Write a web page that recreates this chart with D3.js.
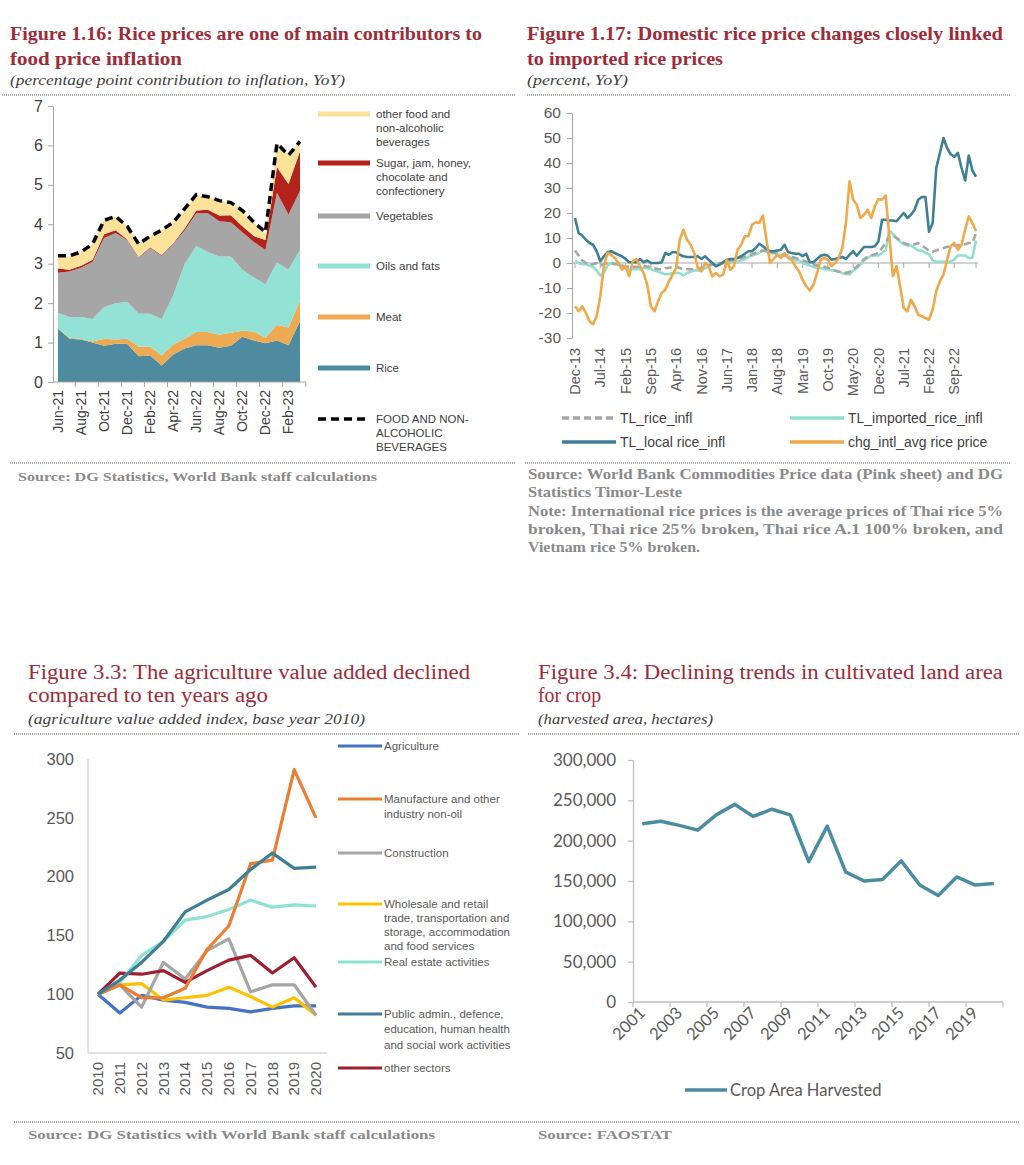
<!DOCTYPE html>
<html><head><meta charset="utf-8">
<script src="https://cdn.jsdelivr.net/npm/d3@7"></script>
<style>
body{margin:0;background:#fff;}
svg{display:block;}
</style></head><body>
<svg id="c" width="1024" height="1165"></svg>
<script>
// ================= DATA =================
// Figure 1.16 (percentage point contribution to inflation, YoY)
const f16Months = ["Jun-21","Jul-21","Aug-21","Sep-21","Oct-21","Nov-21","Dec-21","Jan-22","Feb-22","Mar-22","Apr-22","May-22","Jun-22","Jul-22","Aug-22","Sep-22","Oct-22","Nov-22","Dec-22","Jan-23","Feb-23","Mar-23"];
const f16TickLabels = ["Jun-21","Aug-21","Oct-21","Dec-21","Feb-22","Apr-22","Jun-22","Aug-22","Oct-22","Dec-22","Feb-23"];
const f16Rice  = [1.35,1.10,1.08,1.00,0.92,0.97,0.97,0.65,0.67,0.42,0.70,0.85,0.93,0.93,0.87,0.92,1.15,1.05,0.98,1.05,0.93,1.55];
const f16Meat  = [0.02,0.02,0.02,0.03,0.18,0.11,0.13,0.25,0.23,0.25,0.25,0.25,0.34,0.34,0.33,0.33,0.15,0.23,0.14,0.40,0.45,0.52];
const f16Oils  = [0.38,0.53,0.55,0.57,0.80,0.92,0.93,0.83,0.83,0.93,1.25,1.90,2.18,2.03,1.98,1.93,1.55,1.37,1.36,1.58,1.47,1.28];
const f16Veg   = [1.02,1.15,1.25,1.45,1.75,1.78,1.57,1.42,1.67,1.60,1.30,0.85,0.83,0.98,0.90,0.87,0.95,0.90,0.87,1.77,1.40,1.50];
const f16Sugar = [0.11,0.05,0.05,0.05,0.10,0.07,0.02,0.02,0.02,0.02,0.02,0.05,0.07,0.09,0.14,0.18,0.15,0.15,0.25,0.65,0.77,1.00];
const f16Other = [0.27,0.33,0.35,0.40,0.35,0.35,0.33,0.33,0.28,0.63,0.53,0.45,0.40,0.33,0.38,0.32,0.40,0.35,0.15,0.60,0.73,0.25];
const f16Total = [3.20,3.20,3.30,3.50,4.10,4.20,3.95,3.50,3.70,3.85,4.05,4.40,4.75,4.70,4.60,4.55,4.35,4.05,3.80,6.05,5.75,6.10];

// Figure 1.17 (percent, YoY), monthly Dec-13 .. Mar-23
const f17Start = new Date(2013, 11, 1), f17End = new Date(2023, 3, 1);
const f17TickLabels = ["Dec-13","Jul-14","Feb-15","Sep-15","Apr-16","Nov-16","Jun-17","Jan-18","Aug-18","Mar-19","Oct-19","May-20","Dec-20","Jul-21","Feb-22","Sep-22"];
const f17RiceInfl = [5,3,1,0,-0.5,-0.5,0,-1,-0.5,0,0,-0.5,-0.5,-1,-1.5,-1.5,-1.5,-1.5,-1.5,-1,-1.5,-1.5,-2,-2.5,-2.5,-2,-2,-1.5,-1.5,-2,-2.5,-2.5,-2.5,-2.5,-2,-2,-1.5,-1,-0.5,-0.5,0,0,0.5,1,1,1.5,2,2.5,3,3.5,4,4.5,5,5,4.5,4,4,3.5,3,3,2.5,2,1.5,1,0.5,0,-0.5,-1,-1,-1.5,-2,-2.5,-3,-3.5,-3.5,-4,-3.5,-2.5,-1.5,0,1.5,2.5,3,3.5,4,6,8,11,11,10,9,8,7.5,7,7.5,8,7,6,5,4.5,5,5.5,6,6.5,6.5,7,7,7.5,7.5,8,8,12];
const f17Imported = [1,0,-0.5,-0.5,-1,-1.5,-3,-5,-4,-1,0,0,-0.5,-1,-2,-2.5,-2.5,-2.5,-2.5,-2,-2,-2.5,-3,-3.5,-4,-4.5,-4.5,-4,-4,-4,-5,-4,-3.5,-3,-3,-3,-2,-1.5,-0.5,-0.5,-0.5,0,0,0,0.5,0.5,1,1.5,2.5,3,3.5,4,5,4.5,4,4,3.5,3,3,2.5,2,1,1,0,-0.5,-1,-1.5,-2,-2,-2.5,-2.5,-3,-3,-3.5,-4,-4.5,-4.5,-3,-2,-0.5,1,2,3,3,3,4,5,13,11.5,10,8.5,7.5,7,7,6,5,5,4,3.5,1,0.5,0.5,0.5,0.5,0.5,1.5,3,3,3,2,2,9];
const f17Local = [18,12,11,9.3,8,7.3,4.7,0.7,2.7,4.3,4.7,4,3.3,2.7,1.6,0.3,0.3,0.3,1.6,0.3,1,0,0,0,0.3,4,3.3,4.3,4.3,3.3,2.7,2.4,2.4,2.4,2.7,1.6,2.7,1.3,0,-1.3,-0.7,0.3,1.3,1.6,1.6,2,2.7,3.7,4.7,4.7,6,7.7,6.7,5.6,4.7,4.7,5,5.3,7.3,4.3,4,3.7,3.7,2.7,3.7,0.3,0.3,1.6,2.9,3.3,2.9,1.3,1.6,2,2.4,1.6,3.3,4.7,2.9,4.7,6.4,6.4,6.4,6.7,8.7,17.3,17.3,17,17,16.7,18.4,20,18,19.3,21.3,25.3,26.4,26.4,12.5,16,38,44,50,46,43.5,42.5,44,38,33,43,37,34.5];
const f17Intl = [-17.3,-19.3,-17.3,-20,-23.3,-24.5,-21.3,-13.3,-1.3,4,3.3,2,0,-2.7,-1.3,-5.3,0.7,1.6,-1.3,-4,-8.7,-17.3,-19.3,-15.3,-12,-10.7,-7.3,-4.7,-2,9.3,13.3,9.3,7.3,4,-2,-3.3,0,-1.3,-5.3,-4,-5.3,-4.7,1.3,-2.7,-1.3,5.3,7.3,10.7,10.7,15.3,16.3,16,19,9.3,0,1.6,3.3,2,4,2,1.3,-1.3,-3.3,-6.7,-9.3,-11,-8.7,-4,1.3,2,1.3,-1.3,0,2,6,16,32.7,25.3,23.3,18,19.3,21.3,18,22.7,25.6,25.3,27,10.7,-5.3,-1.3,-9.3,-18,-19.3,-14.7,-17.3,-20.7,-21.3,-22,-22.7,-18.7,-11.3,-7.3,-4.7,1.3,6.7,8,5.3,7.3,13.3,18.7,16,12.7];

// Figure 3.3 (agriculture value added index, base year 2010)
const f33Years = ["2010","2011","2012","2013","2014","2015","2016","2017","2018","2019","2020"];
const f33Agriculture  = [100,84,99,95,93,89,88,85,88,90,90];
const f33Manufacture  = [100,108,97,97,105,138,158,211,214,291,250];
const f33Construction = [100,108,89,127,113,137,147,102,108,108,82];
const f33Wholesale    = [100,108,109,95,97,99,106,98,89,97,82];
const f33RealEstate   = [100,110,133,145,163,166,172,180,174,176,175];
const f33PublicAdmin  = [100,112,127,145,170,180,189,206,220,207,208];
const f33Other        = [100,118,117,120,110,120,129,133,118,131,106];

// Figure 3.4 (harvested area, hectares)
const f34Years = ["2001","2002","2003","2004","2005","2006","2007","2008","2009","2010","2011","2012","2013","2014","2015","2016","2017","2018","2019","2020"];
const f34TickLabels = ["2001","2003","2005","2007","2009","2011","2013","2015","2017","2019"];
const f34Area = [221000,224000,219000,213000,232000,245000,230000,239000,232000,174000,218000,161000,150000,152000,175000,145000,132000,155000,145000,147000];

// ================= DRAWING =================
const svg = d3.select("#c");
const SERIF = "'Liberation Serif','DejaVu Serif',serif";
const SANS = "Arial,'Liberation Sans',sans-serif";
const CAL = "Lato,'Open Sans',sans-serif";
const TITLE_C = "#9E2B38";
const SRC_C = "#8A8A8A";

function txt(x, y, s, o = {}) {
  const t = svg.append("text").attr("x", x).attr("y", y).text(s)
    .attr("font-family", o.family || SANS).attr("font-size", o.size || 12)
    .attr("fill", o.fill || "#404040");
  if (o.weight) t.attr("font-weight", o.weight);
  if (o.style) t.attr("font-style", o.style);
  if (o.anchor) t.attr("text-anchor", o.anchor);
  if (o.len) t.attr("textLength", o.len).attr("lengthAdjust", o.adj || "spacingAndGlyphs");
  if (o.dy) t.attr("dy", o.dy);
  return t;
}
function dotted(x1, x2, y) {
  svg.append("line").attr("x1", x1).attr("x2", x2).attr("y1", y).attr("y2", y)
    .attr("stroke", "#8f8f8f").attr("stroke-width", 1.3).attr("stroke-dasharray", "1,1");
}

// ---------- Titles ----------
txt(10, 40, "Figure 1.16: Rice prices are one of main contributors to", {family: SERIF, size: 19, weight: "bold", fill: TITLE_C, len: 472});
txt(10, 65, "food price inflation", {family: SERIF, size: 19, weight: "bold", fill: TITLE_C, len: 172});
txt(10, 85, "(percentage point contribution to inflation, YoY)", {family: SERIF, size: 15, style: "italic", fill: "#404040", len: 335});
dotted(2, 516, 95);

txt(527, 40, "Figure 1.17: Domestic rice price changes closely linked", {family: SERIF, size: 19, weight: "bold", fill: TITLE_C, len: 476});
txt(527, 65, "to imported rice prices", {family: SERIF, size: 19, weight: "bold", fill: TITLE_C, len: 196});
txt(527, 85, "(percent, YoY)", {family: SERIF, size: 15, style: "italic", fill: "#404040", len: 101});
dotted(527, 1010, 95);

txt(28, 679, "Figure 3.3: The agriculture value added declined", {family: SERIF, size: 20, fill: TITLE_C, len: 442});
txt(28, 702, "compared to ten years ago", {family: SERIF, size: 20, fill: TITLE_C, len: 240});
txt(28, 724, "(agriculture value added index, base year 2010)", {family: SERIF, size: 15, style: "italic", fill: "#404040", len: 337});
dotted(14, 520, 734);

txt(538, 679, "Figure 3.4:  Declining trends in cultivated land area", {family: SERIF, size: 20, fill: TITLE_C, len: 465});
txt(538, 702, "for crop", {family: SERIF, size: 20, fill: TITLE_C, len: 63});
txt(538, 724, "(harvested area, hectares)", {family: SERIF, size: 15, style: "italic", fill: "#404040", len: 175});
dotted(528, 1020, 734);

// ---------- Sources ----------
dotted(10, 516, 463);
txt(18, 481, "Source: DG Statistics, World Bank staff calculations", {family: SERIF, size: 12, weight: "bold", fill: SRC_C, len: 359});
dotted(525, 1010, 463);
const srcOpts = {family: SERIF, size: 14, weight: "bold", fill: SRC_C};
txt(528, 479, "Source: World Bank Commodities Price data (Pink sheet) and DG", {...srcOpts, len: 475});
txt(528, 497, "Statistics Timor-Leste", {...srcOpts, len: 154});
txt(528, 516, "Note: International rice prices is the average prices of Thai rice 5%", {...srcOpts, len: 475});
txt(528, 534, "broken, Thai rice 25% broken, Thai rice A.1 100% broken, and", {...srcOpts, len: 475});
txt(528, 552, "Vietnam rice 5% broken.", {...srcOpts, len: 172});

dotted(14, 1020, 1122);
txt(28, 1139, "Source: DG Statistics with World Bank staff calculations", {family: SERIF, size: 12, weight: "bold", fill: SRC_C, len: 407});
txt(538, 1139, "Source: FAOSTAT", {family: SERIF, size: 12, weight: "bold", fill: SRC_C, len: 134});

// ---------- Figure 1.16 ----------
{
  const x = d3.scalePoint().domain(f16Months).range([58, 300]);
  const y = d3.scaleLinear().domain([0, 7]).range([382, 106]);
  const rows = f16Months.map((m, i) => ({m, rice: f16Rice[i], meat: f16Meat[i], oils: f16Oils[i], veg: f16Veg[i], sugar: f16Sugar[i], other: f16Other[i]}));
  const keys = ["rice", "meat", "oils", "veg", "sugar", "other"];
  const colors = {rice: "#4E8AA0", meat: "#EEAA52", oils: "#92E3D5", veg: "#A6A6A6", sugar: "#B3231C", other: "#FAE29A"};
  const stacked = d3.stack().keys(keys)(rows);
  const area = d3.area().x(d => x(d.data.m)).y0(d => y(d[0])).y1(d => y(d[1]));
  svg.append("g").selectAll("path").data(stacked).join("path").attr("d", area).attr("fill", d => colors[d.key]);
  const line = d3.line().x((d, i) => x(f16Months[i])).y(d => y(d));
  svg.append("path").attr("d", line(f16Total)).attr("fill", "none").attr("stroke", "#000")
    .attr("stroke-width", 3.5).attr("stroke-dasharray", "8,5");

  const ya = svg.append("g").attr("transform", "translate(53,0)")
    .call(d3.axisLeft(y).ticks(7).tickSize(5).tickSizeOuter(0).tickPadding(5).tickFormat(d => String(d)));
  ya.select(".domain").attr("stroke", "#A6A6A6");
  ya.selectAll(".tick line").attr("stroke", "#A6A6A6");
  ya.selectAll("text").attr("font-family", SANS).attr("font-size", 16).attr("fill", "#404040");
  // x axis
  svg.append("line").attr("x1", 53).attr("x2", 306).attr("y1", 382).attr("y2", 382).attr("stroke", "#A6A6A6").attr("stroke-width", 1);
  const step = x.step();
  f16Months.forEach((m, i) => {
    if (i % 2 === 1) svg.append("line").attr("x1", x(m) + step / 2).attr("x2", x(m) + step / 2).attr("y1", 382).attr("y2", 387).attr("stroke", "#A6A6A6");
  });
  f16TickLabels.forEach(l => {
    svg.append("text").attr("transform", `translate(${x(l)},390) rotate(-90)`).attr("text-anchor", "end").attr("dy", "0.35em")
      .attr("font-family", SANS).attr("font-size", 14).attr("fill", "#404040").text(l);
  });
  // legend
  const leg = [
    {k: "other", lines: ["other food and", "non-alcoholic", "beverages"], y: 114},
    {k: "sugar", lines: ["Sugar, jam, honey,", "chocolate and", "confectionery"], y: 163},
    {k: "veg", lines: ["Vegetables"], y: 216},
    {k: "oils", lines: ["Oils and fats"], y: 266},
    {k: "meat", lines: ["Meat"], y: 317},
    {k: "rice", lines: ["Rice"], y: 368},
    {k: "total", lines: ["FOOD AND NON-", "ALCOHOLIC", "BEVERAGES"], y: 419}
  ];
  leg.forEach(it => {
    const l = svg.append("line").attr("x1", 318).attr("x2", 370).attr("y1", it.y).attr("y2", it.y);
    if (it.k === "total") l.attr("stroke", "#000").attr("stroke-width", 3.5).attr("stroke-dasharray", "8,5");
    else l.attr("stroke", colors[it.k]).attr("stroke-width", 5);
    it.lines.forEach((s, j) => txt(376, it.y + j * 14, s, {size: 11.5, dy: "0.35em", fill: "#404040"}));
  });
}

// ---------- Figure 1.17 ----------
{
  const months = d3.timeMonth.range(f17Start, f17End).map(d3.timeFormat("%b-%y"));
  const x = d3.scalePoint().domain(months).range([575, 976]);
  const y = d3.scaleLinear().domain([-30, 60]).range([338, 113]);
  const ya = svg.append("g").attr("transform", "translate(572,0)")
    .call(d3.axisLeft(y).tickValues(d3.range(-30, 61, 10)).tickSize(5).tickSizeOuter(0).tickPadding(6).tickFormat(d => String(d)));
  ya.select(".domain").attr("stroke", "#A6A6A6");
  ya.selectAll(".tick line").attr("stroke", "#A6A6A6");
  ya.selectAll("text").attr("font-family", SANS).attr("font-size", 15.5).attr("fill", "#595959");
  svg.append("line").attr("x1", 572).attr("x2", 978).attr("y1", y(0)).attr("y2", y(0)).attr("stroke", "#A6A6A6");
  f17TickLabels.forEach(l => {
    svg.append("line").attr("x1", x(l)).attr("x2", x(l)).attr("y1", y(0)).attr("y2", y(0) + 5).attr("stroke", "#A6A6A6");
    svg.append("text").attr("transform", `translate(${x(l)},348) rotate(-90)`).attr("text-anchor", "end").attr("dy", "0.35em")
      .attr("font-family", SANS).attr("font-size", 14.5).attr("fill", "#595959").text(l);
  });
  svg.append("line").attr("x1", 976).attr("x2", 976).attr("y1", y(0)).attr("y2", y(0) + 5).attr("stroke", "#A6A6A6");
  const line = d3.line().x((d, i) => x(months[i])).y(d => y(d));
  const series = [
    {v: f17Imported, c: "#8FE0CF", dash: null},
    {v: f17RiceInfl, c: "#A6A6A6", dash: "7,4"},
    {v: f17Local, c: "#3F7F95", dash: null},
    {v: f17Intl, c: "#F0A94A", dash: null}
  ];
  series.forEach(s => {
    const p = svg.append("path").attr("d", line(s.v)).attr("fill", "none").attr("stroke", s.c).attr("stroke-width", 2.6).attr("stroke-linejoin", "round");
    if (s.dash) p.attr("stroke-dasharray", s.dash);
  });
  const leg = [
    {x: 562, y: 418, c: "#A6A6A6", dash: "7,4", t: "TL_rice_infl"},
    {x: 790, y: 418, c: "#8FE0CF", dash: null, t: "TL_imported_rice_infl"},
    {x: 562, y: 442, c: "#3F7F95", dash: null, t: "TL_local rice_infl"},
    {x: 790, y: 442, c: "#F0A94A", dash: null, t: "chg_intl_avg rice price"}
  ];
  leg.forEach(it => {
    const l = svg.append("line").attr("x1", it.x).attr("x2", it.x + 54).attr("y1", it.y).attr("y2", it.y).attr("stroke", it.c).attr("stroke-width", 3.5);
    if (it.dash) l.attr("stroke-dasharray", it.dash);
    txt(it.x + 58, it.y, it.t, {size: 14, dy: "0.35em", fill: "#404040"});
  });
}

// ---------- Figure 3.3 ----------
{
  const x = d3.scalePoint().domain(f33Years).range([98, 316]);
  const y = d3.scaleLinear().domain([50, 300]).range([1053, 759]);
  svg.append("line").attr("x1", 88).attr("x2", 88).attr("y1", 759).attr("y2", 1053).attr("stroke", "#D9D9D9").attr("stroke-width", 1.5);
  svg.append("line").attr("x1", 88).attr("x2", 327).attr("y1", 1053).attr("y2", 1053).attr("stroke", "#D9D9D9").attr("stroke-width", 1.5);
  y.ticks(5).forEach(v => txt(74, y(v), String(v), {size: 16.5, anchor: "end", dy: "0.35em", fill: "#595959"}));
  f33Years.forEach(l => {
    svg.append("text").attr("transform", `translate(${x(l)},1062) rotate(-90)`).attr("text-anchor", "end").attr("dy", "0.35em")
      .attr("font-family", SANS).attr("font-size", 15).attr("fill", "#595959").text(l);
  });
  const series = [
    {v: f33Agriculture, c: "#4472C4", t: ["Agriculture"], ly: 746, sp: 15.3},
    {v: f33Manufacture, c: "#ED7D31", t: ["Manufacture and other", "industry non-oil"], ly: 799, sp: 15.3},
    {v: f33Construction, c: "#A5A5A5", t: ["Construction"], ly: 853, sp: 15.3},
    {v: f33Wholesale, c: "#FFC000", t: ["Wholesale and retail", "trade, transportation and", "storage, accommodation", "and food services"], ly: 904, sp: 14},
    {v: f33RealEstate, c: "#8EE2D2", t: ["Real estate activities"], ly: 962, sp: 15.3},
    {v: f33PublicAdmin, c: "#3F7F95", t: ["Public admin., defence,", "education, human health", "and social work activities"], ly: 1014, sp: 15.3},
    {v: f33Other, c: "#A01E2E", t: ["other sectors"], ly: 1068, sp: 15.3}
  ];
  const line = d3.line().x((d, i) => x(f33Years[i])).y(d => y(d));
  const order = [0, 3, 2, 6, 4, 1, 5];
  order.forEach(k => {
    const s = series[k];
    svg.append("path").attr("d", line(s.v)).attr("fill", "none").attr("stroke", s.c).attr("stroke-width", 3.2).attr("stroke-linejoin", "round");
  });
  series.forEach(s => {
    svg.append("line").attr("x1", 338).attr("x2", 382).attr("y1", s.ly).attr("y2", s.ly).attr("stroke", s.c).attr("stroke-width", 3);
    s.t.forEach((str, j) => txt(384, s.ly + j * s.sp, str, {size: 11.5, dy: "0.35em", fill: "#595959"}));
  });
}

// ---------- Figure 3.4 ----------
{
  const x = d3.scaleBand().domain(f34Years).range([633, 1003]);
  const y = d3.scaleLinear().domain([0, 300000]).range([1002, 760]);
  const ya = svg.append("g").attr("transform", "translate(633,0)")
    .call(d3.axisLeft(y).tickValues(d3.range(0, 300001, 50000)).tickSize(5).tickSizeOuter(0).tickPadding(12).tickFormat(d3.format(",")));
  ya.select(".domain").attr("stroke", "#BFBFBF").attr("stroke-width", 1.3);
  ya.selectAll(".tick line").attr("stroke", "#BFBFBF").attr("stroke-width", 1.3);
  ya.selectAll("text").attr("font-family", CAL).attr("font-size", 17).attr("fill", "#595959");
  svg.append("line").attr("x1", 633).attr("x2", 1003).attr("y1", 1002).attr("y2", 1002).attr("stroke", "#BFBFBF").attr("stroke-width", 1.3);
  f34Years.forEach((yr, i) => {
    if (i % 2 === 0) svg.append("line").attr("x1", x(yr)).attr("x2", x(yr)).attr("y1", 1002).attr("y2", 1007).attr("stroke", "#BFBFBF").attr("stroke-width", 1.3);
  });
  svg.append("line").attr("x1", 1003).attr("x2", 1003).attr("y1", 1002).attr("y2", 1007).attr("stroke", "#BFBFBF").attr("stroke-width", 1.3);
  const cx = yr => x(yr) + x.bandwidth() / 2;
  f34TickLabels.forEach(l => {
    svg.append("text").attr("transform", `translate(${cx(l) + 4},1014) rotate(-45)`).attr("text-anchor", "end")
      .attr("font-family", CAL).attr("font-size", 16.5).attr("fill", "#595959").text(l);
  });
  const line = d3.line().x((d, i) => cx(f34Years[i])).y(d => y(d));
  svg.append("path").attr("d", line(f34Area)).attr("fill", "none").attr("stroke", "#4C8CA2").attr("stroke-width", 3.5).attr("stroke-linejoin", "round");
  svg.append("line").attr("x1", 685).attr("x2", 727).attr("y1", 1090).attr("y2", 1090).attr("stroke", "#4C8CA2").attr("stroke-width", 3.5);
  txt(730, 1090, "Crop Area Harvested", {family: CAL, size: 16.5, dy: "0.35em", fill: "#595959"});
}
</script>
</body></html>
